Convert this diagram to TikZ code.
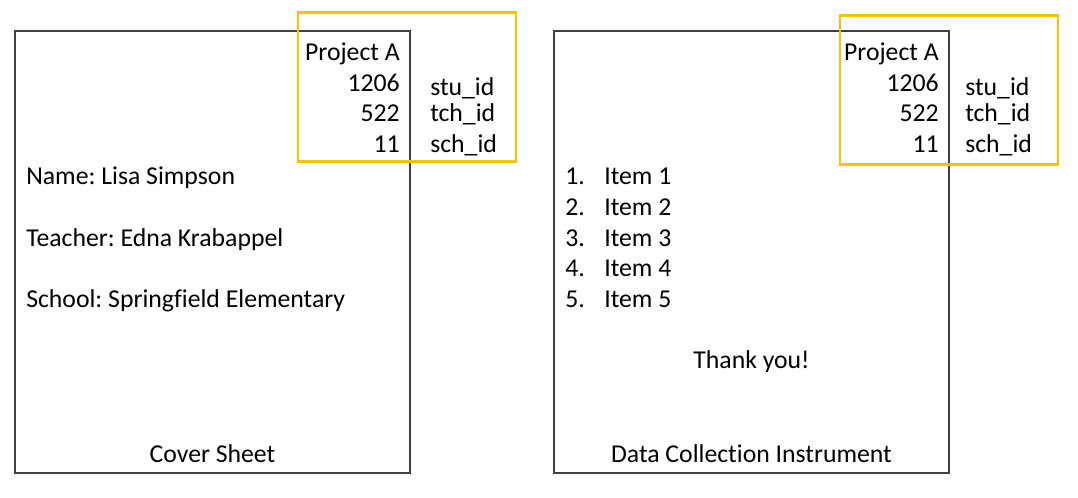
\documentclass[tikz,border=0pt]{standalone}
\usepackage{fontspec}
\setmainfont[Ligatures={NoCommon,NoRare,NoDiscretionary}]{Carlito}
\usepackage{xcolor}
\definecolor{sheetgray}{HTML}{404040}
\definecolor{idgold}{HTML}{FFC000}
\usetikzlibrary{positioning}
\frenchspacing
\tikzset{
  sheet/.style={
    rectangle, draw=sheetgray, line width=1.5pt, inner sep=0pt,
    minimum width=296.25pt, minimum height=331.5pt
  },
  idframe/.style={
    rectangle, draw=idgold, line width=2.2pt, inner sep=0pt,
    minimum width=163.5pt, minimum height=111.5pt
  },
  txt/.style={inner sep=0pt, font=\fontsize{19.3}{23}\selectfont},
  numtxt/.style={txt, anchor=base east},
  lefttxt/.style={txt, anchor=base west},
  midtxt/.style={txt, anchor=base}
}

\begin{document}
\begin{tikzpicture}[x=0.75pt,y=-0.75pt]

  \useasboundingbox (0,0) rectangle (1078,497);

  % Sheets
  \node[sheet] (cover) at (212.5,252) {};
  \node[sheet] (instr) at (751.5,252) {};

  % Cover sheet text
  \node[numtxt] (projA) at (400,60) {Project A};
  \node[numtxt] (stuA) at (400,91) {1206};
  \node[numtxt] (tchA) at (400,121) {522};
  \node[numtxt] (schA) at (400,152) {11};
  \node[lefttxt] (stulabA) at (430,95) {stu\_id};
  \node[lefttxt] (tchlabA) at (430,121) {tch\_id};
  \node[lefttxt] (schlabA) at (430,152) {sch\_id};

  \node[lefttxt] (name) at (26,184) {Name: Lisa Simpson};
  \node[lefttxt] (teacher) at (26,246) {Teacher: Edna Krabappel};
  \node[lefttxt] (school) at (26,307) {School: Springfield Elementary};
  \node[midtxt] (covertitle) at (212.5,462) {Cover Sheet};

  % Instrument text
  \node[numtxt] (projB) at (939,60) {Project A};
  \node[numtxt] (stuB) at (939,91) {1206};
  \node[numtxt] (tchB) at (939,121) {522};
  \node[numtxt] (schB) at (939,152) {11};
  \node[lefttxt] (stulabB) at (965,95) {stu\_id};
  \node[lefttxt] (tchlabB) at (965,121) {tch\_id};
  \node[lefttxt] (schlabB) at (965,152) {sch\_id};

  \foreach \i/\y in {1/184,2/215,3/246,4/276,5/307} {
    \node[lefttxt] (num\i) at (565,\y) {\i.};
    \node[lefttxt] (item\i) at (604,\y) {Item \i};
  }
  \node[midtxt] (thanks) at (751.5,368) {Thank you!};
  \node[midtxt] (instrtitle) at (751.5,462) {Data Collection Instrument};

  % ID frames
  \node[idframe] (idA) at (407,87) {};
  \node[idframe] (idB) at (949,90) {};

\end{tikzpicture}
\end{document}
